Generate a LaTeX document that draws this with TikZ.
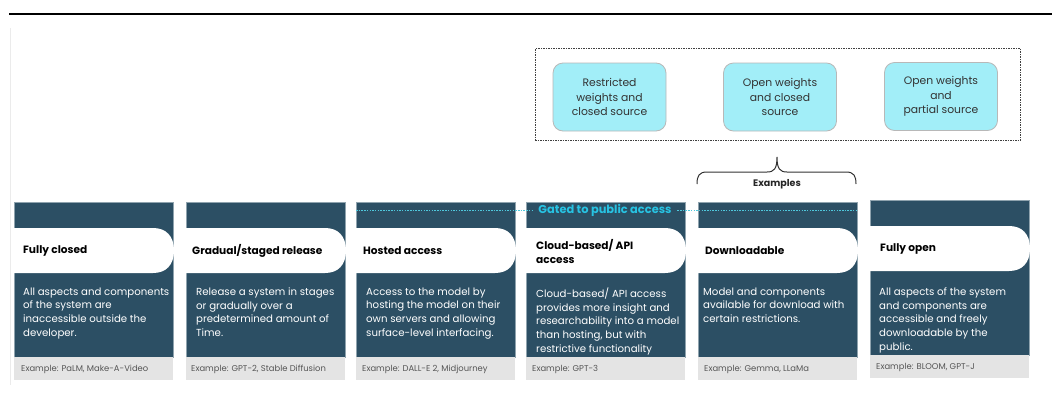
\documentclass[tikz,border=0pt]{standalone}
\usepackage{fontspec}
\setmainfont{Poppins}
\definecolor{dkblue}{HTML}{2C4F64}
\definecolor{dkedge}{HTML}{8FA3AE}
\definecolor{exgray}{HTML}{E4E4E4}
\definecolor{extext}{HTML}{555555}
\definecolor{cyanfill}{HTML}{A2EEF8}
\definecolor{cyanedge}{HTML}{B8B8B8}
\definecolor{gatetext}{HTML}{27C3E3}
\definecolor{gateline}{HTML}{4FC8DC}
\definecolor{boxtext}{HTML}{333333}
\begin{document}
\begin{tikzpicture}[x=1pt,y=-1pt,
  darkbox/.style={fill=dkblue, draw=dkedge, line width=0.4pt, minimum width=159pt, minimum height=155pt, anchor=north west, inner sep=0pt},
  graybox/.style={fill=exgray, minimum width=159pt, minimum height=23pt, anchor=north west, inner sep=0pt},
  title/.style={font=\fontsize{10.6}{14.5}\selectfont\bfseries, text=black, align=left, anchor=west, inner sep=0pt},
  body/.style={font=\fontsize{10.2}{13.7}\selectfont, text=white, align=left, anchor=north west, inner sep=0pt},
  extxt/.style={font=\fontsize{8.4}{9}\selectfont, text=extext, anchor=west, inner sep=0pt},
  cyanbox/.style={fill=cyanfill, draw=cyanedge, line width=0.8pt, rounded corners=10pt, minimum width=113pt, minimum height=68pt, align=center, font=\fontsize{10.8}{14.5}\selectfont, text=boxtext, inner sep=0pt},
  groupbox/.style={draw=black!75, line width=1pt, dash pattern=on 1.5pt off 1pt, minimum width=485pt, minimum height=92pt, inner sep=0pt},
  gatestyle/.style={draw=gateline, line width=0.9pt, dash pattern=on 1.5pt off 1.2pt},
]
\useasboundingbox (0,0) rectangle (1052,399);
\fill[white] (0,0) rectangle (1052,399);
% top rule and faint left rule
\draw[line width=2pt] (9,13.5) -- (1052,13.5);
\draw[black!8, line width=0.8pt] (10,28) -- (10,385);
% columns
\foreach \i/\x/\dy in {1/14/0, 2/186/0, 3/356/0, 4/526/0, 5/698/0, 6/870/-2} {
  \node[darkbox] (d\i) at (\x,202+\dy) {};
  \node[graybox] (g\i) at (\x,357+\dy) {};
  \fill[white] (\x,228+\dy) -- ++(139,0) .. controls +(13,0) and +(0,-14.5) .. ++(21,22.5)
     .. controls +(0,14.5) and +(13,0) .. ++(-21,22.5) -- (\x,273+\dy) -- cycle;
}
% gated line
\coordinate (gs) at (356,210);
\coordinate (ge) at (857,210);
\draw[gatestyle] (gs) -- (ge);
\node[fill=dkblue, inner xsep=5pt, inner ysep=1pt, font=\fontsize{11.4}{12}\selectfont\bfseries, text=gatetext] (gate) at (605,210) {Gated to public access};
% titles
\node[title] (t1) at (23,250.5) {Fully closed};
\node[title] (t2) at (192,250.5) {Gradual/staged release};
\node[title] (t3) at (363,250.5) {Hosted access};
\node[title] (t4) at (536,251.5) {Cloud-based/ API\\access};
\node[title] (t5) at (705,250.5) {Downloadable};
\node[title] (t6) at (880,248.5) {Fully open};
% bodies
\node[body] (b1) at (23,287.5) {All aspects and components\\of the system are\\inaccessible outside the\\developer.};
\node[body] (b2) at (196,287.5) {Release a system in stages\\or gradually over a\\predetermined amount of\\Time.};
\node[body] (b3) at (366,287.5) {Access to the model by\\hosting the model on their\\own servers and allowing\\surface-level interfacing.};
\node[body] (b4) at (536,287.5) {Cloud-based/ API access\\provides more insight and\\researchability into a model\\than hosting, but with\\restrictive functionality};
\node[body] (b5) at (703,287.5) {Model and components\\available for download with\\certain restrictions.};
\node[body] (b6) at (879,287.5) {All aspects of the system\\and components are\\accessible and freely\\downloadable by the\\public.};
% examples
\node[extxt] (e1) at (21,369) {Example: PaLM, Make-A-Video};
\node[extxt] (e2) at (191,369) {Example: GPT-2, Stable Diffusion};
\node[extxt] (e3) at (362,369) {Example: DALL-E 2, Midjourney};
\node[extxt] (e4) at (532,369) {Example: GPT-3};
\node[extxt] (e5) at (704,369) {Example: Gemma, LLaMa};
\node[extxt] (e6) at (876,367) {Example: BLOOM, GPT-J};
% top group
\node[groupbox] (grp) at (777.5,94.5) {};
\node[cyanbox] (k1) at (609.5,97) {Restricted\\weights and\\closed source};
\node[cyanbox] (k2) at (780,97) {Open weights\\and closed\\source};
\node[cyanbox] (k3) at (941,96.5) {Open weights\\and\\partial source};
% brace
\draw[black!80, line width=1pt] (697,184) .. controls (697,176) and (699,172) .. (707,172) -- (767,172)
   .. controls (774,172) and (777,169) .. (777,157) .. controls (777,169) and (780,172) .. (787,172)
   -- (846,172) .. controls (854,172) and (856,176) .. (856,184);
\node[font=\fontsize{9.5}{11}\selectfont\bfseries, text=black!85] (exlab) at (777,184) {Examples};
\end{tikzpicture}
\end{document}
